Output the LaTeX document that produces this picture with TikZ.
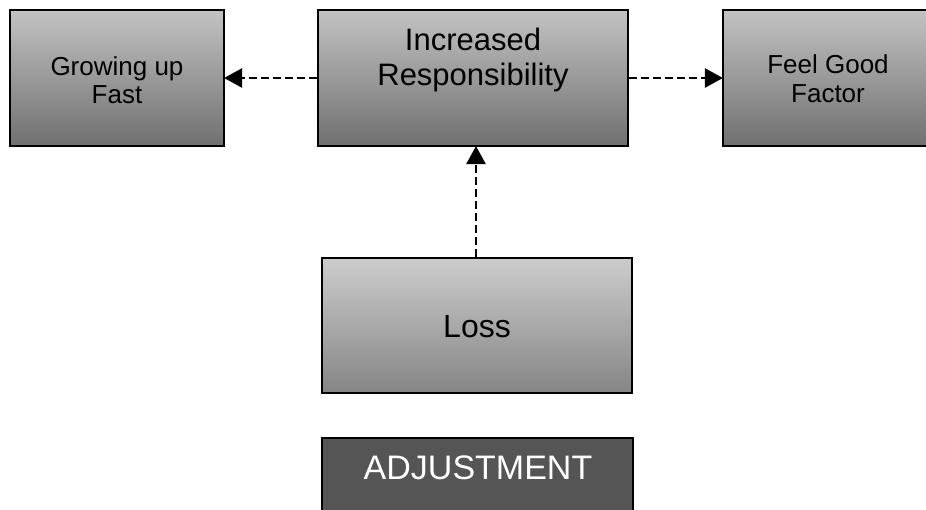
\documentclass[tikz,border=0pt]{standalone}
\usepackage{fontspec}
\setmainfont{Liberation Sans}
\usetikzlibrary{arrows.meta}
\definecolor{topgrey}{HTML}{C2C2C2}
\definecolor{botgrey}{HTML}{707070}
\definecolor{losstop}{HTML}{CCCCCC}
\definecolor{lossbot}{HTML}{858585}
\definecolor{darkfill}{HTML}{555555}
\tikzset{
  box/.style={draw=black, line width=2.2pt, rectangle, inner sep=0pt},
  greybox/.style={box, top color=topgrey, bottom color=botgrey},
  lossbox/.style={box, top color=losstop, bottom color=lossbot},
  darkbox/.style={box, fill=darkfill},
  lbl/.style={anchor=base, inner sep=0pt, text=black},
  conn/.style={draw=black, line width=2.6pt, dash pattern=on 8pt off 4pt,
    -{Triangle[length=18pt, width=19pt]}, shorten >=-1pt}
}
\begin{document}
\begin{tikzpicture}[x=1pt, y=-1pt]
  \useasboundingbox (0,0) rectangle (926,509);

  % boxes
  \node[greybox, minimum width=214pt, minimum height=136pt] (grow) at (117,78) {};
  \node[greybox, minimum width=310pt, minimum height=136pt] (inc) at (473,78) {};
  \node[greybox, minimum width=208pt, minimum height=136pt] (feel) at (827,78) {};
  \node[lossbox, minimum width=310pt, minimum height=135pt] (loss) at (477,325.5) {};
  \node[darkbox, minimum width=311pt, minimum height=80pt] (adj) at (477.5,478) {};

  % labels
  \node[lbl, font=\fontsize{26}{30}\selectfont] (growA) at (117,75) {Growing up};
  \node[lbl, font=\fontsize{26}{30}\selectfont] (growB) at (117,103) {Fast};
  \node[lbl, font=\fontsize{31}{36}\selectfont] (incA) at (473,50) {Increased};
  \node[lbl, font=\fontsize{31}{36}\selectfont] (incB) at (473,85) {Responsibility};
  \node[lbl, font=\fontsize{26}{30}\selectfont] (feelA) at (828,73) {Feel Good};
  \node[lbl, font=\fontsize{26}{30}\selectfont] (feelB) at (828,102) {Factor};
  \node[lbl, font=\fontsize{32}{36}\selectfont] (lossT) at (477,337) {Loss};
  \node[lbl, text=white, font=\fontsize{34}{40}\selectfont] (adjT) at (478,479) {ADJUSTMENT};

  % connectors
  \draw[conn] (inc.west) -- (grow.east);
  \draw[conn] (inc.east) -- (feel.west);
  \draw[conn] (loss.north -| 476,0) -- (inc.south -| 476,0);
\end{tikzpicture}
\end{document}
